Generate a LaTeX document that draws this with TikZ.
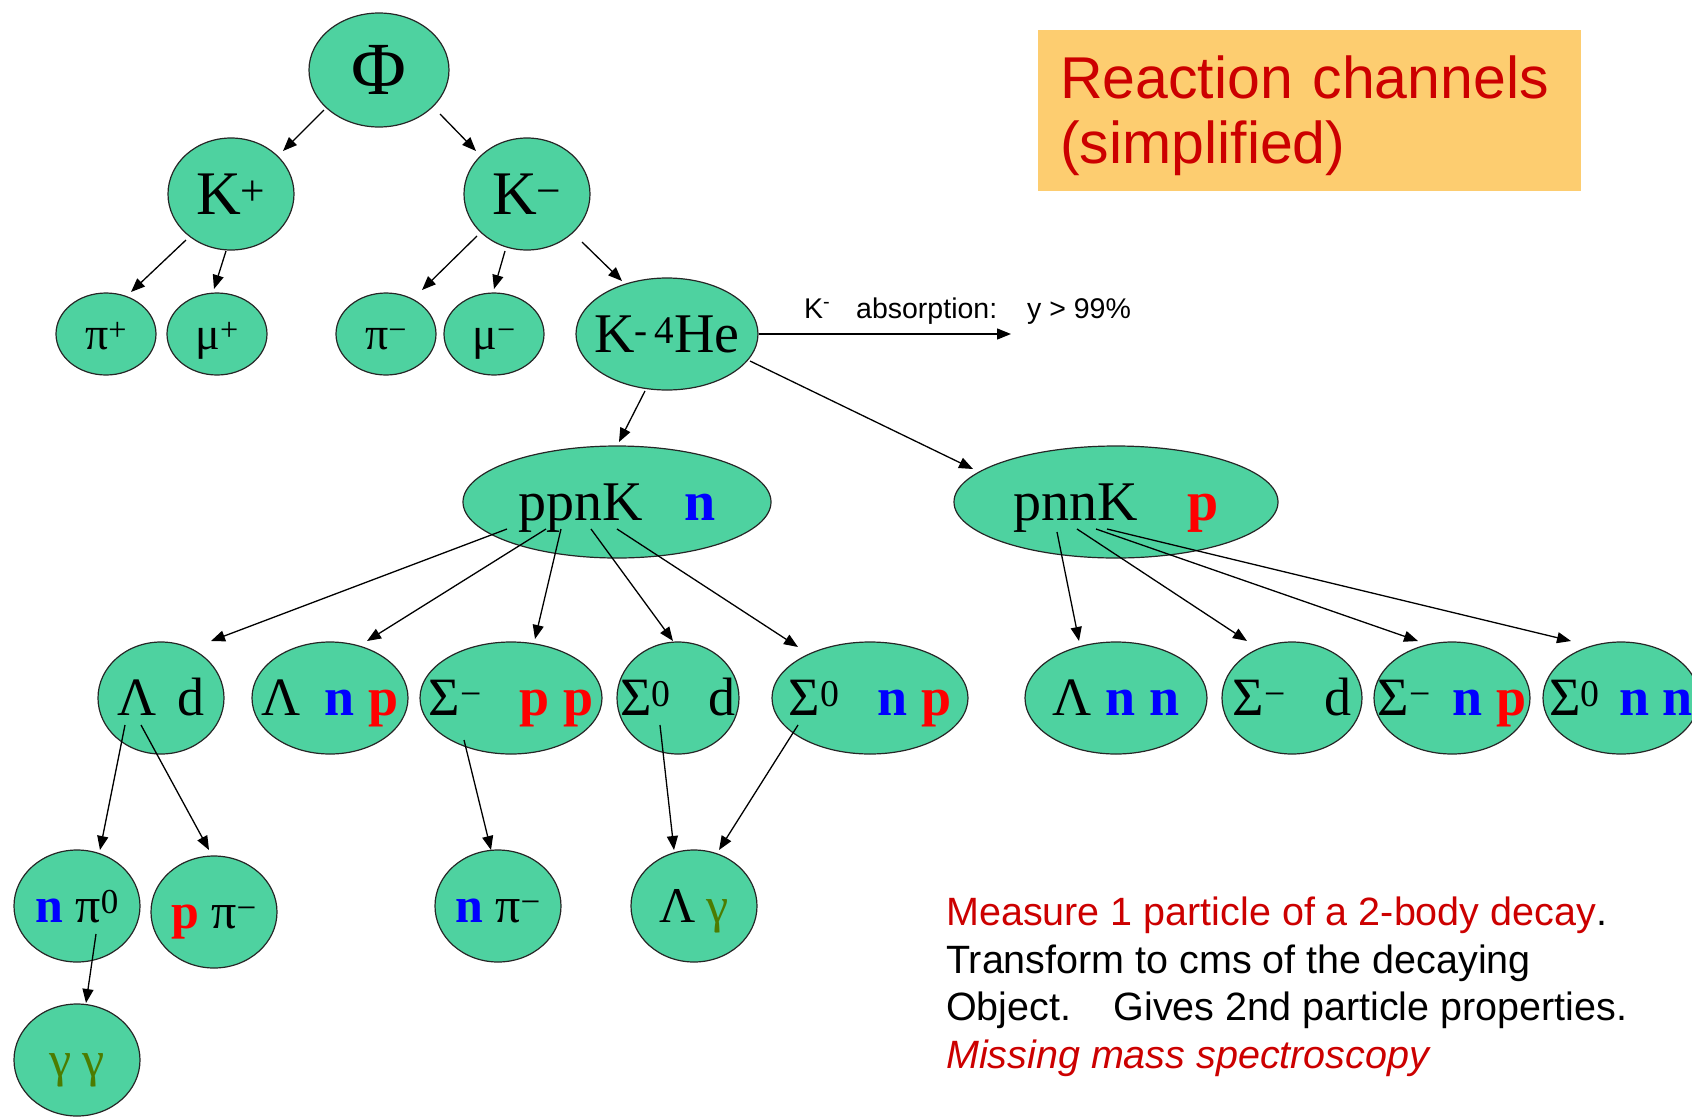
\documentclass[tikz,border=0pt]{standalone}
\usepackage{fontspec}
\setmainfont{Liberation Serif}
\newfontfamily\sansf{Liberation Sans}
\usetikzlibrary{shapes.geometric,arrows.meta}
\definecolor{ngreen}{RGB}{78,210,160}
\definecolor{nblue}{RGB}{0,0,255}
\definecolor{nred}{RGB}{255,0,0}
\definecolor{gam}{RGB}{76,124,0}
\definecolor{tred}{RGB}{204,0,0}
\definecolor{tbox}{RGB}{253,205,112}
\newcommand\tx[2][0.33em]{\makebox[0pt]{\raisebox{-#1}[0pt][0pt]{#2}}}
\newcommand\bn{\textbf{\color{nblue}n}}
\newcommand\bp{\textbf{\color{nred}p}}
\newcommand\gm{{\color{gam}γ}}
\tikzset{
  pnode/.style={ellipse, draw=black!85, line width=1.2pt, fill=ngreen, inner sep=0pt},
  e/.style 2 args={minimum width=#1pt, minimum height=#2pt},
  arr/.style={-{Triangle[length=14pt,width=11pt]}, line width=1.3pt},
  fA/.style={font=\fontsize{75}{80}\selectfont},
  fB/.style={font=\fontsize{62}{66}\selectfont},
  fC/.style={font=\fontsize{46}{50}\selectfont},
  fD/.style={font=\fontsize{56}{60}\selectfont},
  fE/.style={font=\fontsize{54}{58}\selectfont},
  fF/.style={font=\fontsize{50}{54}\selectfont},
}
\begin{document}
\begin{tikzpicture}[x=1pt,y=-1pt]
\useasboundingbox (0,0) rectangle (1692,1117);
% title
\node[anchor=north west, fill=tbox, minimum width=543pt, minimum height=161pt,
      inner xsep=22pt, inner ysep=0pt, text width=499pt, align=left, text=tred,
      font=\sansf\fontsize{59}{65}\selectfont] (title) at (1038,30)
      {\rule{0pt}{53pt}Reaction channels\\(simplified)};
% nodes
\node[pnode,e={140}{114},fA] (phi) at (379,70) {\tx{Φ}};
\node[pnode,e={126}{112},fB] (kp) at (231,194) {\tx{K\textsuperscript{+}}};
\node[pnode,e={126}{112},fB] (km) at (527,194) {\tx{K\textsuperscript{−}}};
\node[pnode,e={100}{82},fC] (pip) at (106,334) {\tx{π\textsuperscript{+}}};
\node[pnode,e={100}{82},fC] (mup) at (217,334) {\tx{μ\textsuperscript{+}}};
\node[pnode,e={100}{82},fC] (pim) at (386,334) {\tx{π\textsuperscript{−}}};
\node[pnode,e={100}{82},fC] (mum) at (494,334) {\tx{μ\textsuperscript{−}}};
\node[pnode,e={182}{112},fD] (khe) at (667,334) {\tx{K\textsuperscript{-\,4}He}};
\node[pnode,e={308}{112},fD] (ppnk) at (617,502) {\tx{ppnK\hspace{0.75em}\bn}};
\node[pnode,e={324}{112},fD] (pnnk) at (1116,502) {\tx{pnnK\hspace{0.9em}\bp}};
% row 3
\node[pnode,e={126}{112},fE] (ld) at (161,698) {\tx{Λ\hspace{0.4em}d}};
\node[pnode,e={156}{112},fE] (lnp) at (330,698) {\tx{Λ\hspace{0.45em}\bn\hspace{0.25em}\bp}};
\node[pnode,e={182}{112},fE] (spp) at (511,698) {\tx{Σ\textsuperscript{−}\hspace{0.7em}\bp\hspace{0.25em}\bp}};
\node[pnode,e={122}{112},fE] (s0d) at (678,698) {\tx{Σ\textsuperscript{0}\hspace{0.7em}d}};
\node[pnode,e={196}{112},fE] (s0np) at (870,698) {\tx{Σ\textsuperscript{0}\hspace{0.7em}\bn\hspace{0.25em}\bp}};
\node[pnode,e={182}{112},fE] (lnn) at (1116,698) {\tx{Λ\hspace{0.25em}\bn\hspace{0.25em}\bn}};
\node[pnode,e={140}{112},fE] (smd) at (1292,698) {\tx{Σ\textsuperscript{−}\hspace{0.7em}d}};
\node[pnode,e={156}{112},fE] (smnp) at (1452,698) {\tx{Σ\textsuperscript{−}\hspace{0.4em}\bn\hspace{0.25em}\bp}};
\node[pnode,e={156}{112},fE] (s0nn) at (1621,698) {\tx{Σ\textsuperscript{0}\hspace{0.35em}\bn\hspace{0.25em}\bn}};
% row 4
\node[pnode,e={126}{112},fF] (npi0) at (77,906) {\tx{\bn\hspace{0.25em}π\textsuperscript{0}}};
\node[pnode,e={126}{112},fF] (ppim) at (214,912) {\tx{\bp\hspace{0.25em}π\textsuperscript{−}}};
\node[pnode,e={126}{112},fF] (npim) at (498,906) {\tx{\bn\hspace{0.25em}π\textsuperscript{−}}};
\node[pnode,e={126}{112},fF] (lgam) at (694,906) {\tx{Λ\hspace{0.2em}\gm}};
\node[pnode,e={126}{112},fF] (gg) at (77,1060) {\tx{\gm\hspace{0.2em}\gm}};
% absorption
\coordinate (absend) at (1011,334);
\node[anchor=base west, inner sep=0pt, font=\sansf\fontsize{28.5}{32}\selectfont] (abslbl) at (804,318)
  {\makebox[52pt][l]{K\textsuperscript{-}}\makebox[171pt][l]{absorption:}y > 99\%};
% arrows
\draw[arr] ([shift={(-55,40)}]phi.center) -- ([shift={(52,-43)}]kp.center);
\draw[arr] ([shift={(61,44)}]phi.center) -- ([shift={(-51,-43)}]km.center);
\draw[arr] ([shift={(-45,46)}]kp.center) -- ([shift={(25,-42)}]pip.center);
\draw[arr] ([shift={(-5,57)}]kp.center) -- ([shift={(-3,-45)}]mup.center);
\draw[arr] ([shift={(-50,42)}]km.center) -- ([shift={(36,-44)}]pim.center);
\draw[arr] ([shift={(-22,57)}]km.center) -- ([shift={(0,-45)}]mum.center);
\draw[arr] ([shift={(55,48)}]km.center) -- ([shift={(-45,-53)}]khe.center);
\draw[arr] ([shift={(-22,57)}]khe.center) -- ([shift={(2,-60)}]ppnk.center);
\draw[arr] ([shift={(83,27)}]khe.center) -- ([shift={(-143,-33)}]pnnk.center);
\draw[arr] (khe.east) -- (absend);
\draw[arr] ([shift={(-110,27)}]ppnk.center) -- ([shift={(50,-57)}]ld.center);
\draw[arr] ([shift={(-71,27)}]ppnk.center) -- ([shift={(37,-57)}]lnp.center);
\draw[arr] ([shift={(-56,27)}]ppnk.center) -- ([shift={(24,-59)}]spp.center);
\draw[arr] ([shift={(-26,27)}]ppnk.center) -- ([shift={(-5,-57)}]s0d.center);
\draw[arr] ([shift={(0,27)}]ppnk.center) -- ([shift={(-72,-51)}]s0np.center);
\draw[arr] ([shift={(-59,30)}]pnnk.center) -- ([shift={(-37,-57)}]lnn.center);
\draw[arr] ([shift={(-39,27)}]pnnk.center) -- ([shift={(-45,-57)}]smd.center);
\draw[arr] ([shift={(-20,27)}]pnnk.center) -- ([shift={(-34,-57)}]smnp.center);
\draw[arr] ([shift={(-9,27)}]pnnk.center) -- ([shift={(-50,-57)}]s0nn.center);
\draw[arr] ([shift={(-36,27)}]ld.center) -- ([shift={(23,-56)}]npi0.center);
\draw[arr] ([shift={(-20,27)}]ld.center) -- ([shift={(-5,-62)}]ppim.center);
\draw[arr] ([shift={(-47,42)}]spp.center) -- ([shift={(-7,-56)}]npim.center);
\draw[arr] ([shift={(-18,27)}]s0d.center) -- ([shift={(-20,-56)}]lgam.center);
\draw[arr] ([shift={(-72,27)}]s0np.center) -- ([shift={(25,-56)}]lgam.center);
\draw[arr] ([shift={(19,28)}]npi0.center) -- ([shift={(9,-57)}]gg.center);
% notes
\node[anchor=base west, inner sep=0pt, align=left, font=\sansf\fontsize{39.5}{47.5}\selectfont] (notes) at (946,1068)
  {{\color{tred}Measure 1 particle of a 2-body decay}.\\
   Transform to cms of the decaying\\
   Object.\hspace{0.7em} Gives 2nd particle properties.\\
   {\color{tred}\itshape Missing mass spectroscopy}};
\end{tikzpicture}
\end{document}
